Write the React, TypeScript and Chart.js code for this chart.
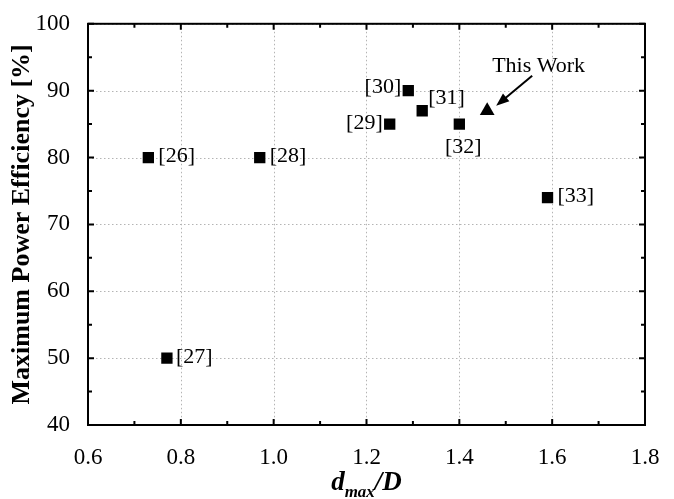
import React, { useEffect, useRef } from "react";
import { Chart, registerables } from "chart.js";

Chart.register(...registerables);

// ---- data ----
const refX = [0.73, 0.77, 0.97, 1.25, 1.29, 1.32, 1.4, 1.59];
const refY = [80, 50, 80, 85, 90, 87, 85, 74];
const refLabels = ["[26]", "[27]", "[28]", "[29]", "[30]", "[31]", "[32]", "[33]"];
const thisWorkX = [1.46];
const thisWorkY = [87];
const thisWorkLabel = "This Work";
const xTicks = [0.6, 0.8, 1.0, 1.2, 1.4, 1.6, 1.8];
const yTicks = [40, 50, 60, 70, 80, 90, 100];
const yTitle = "Maximum Power Efficiency [%]";

// label placement (style only)
const labelPlace: Record<string, { dx: number; dy: number; align: CanvasTextAlign }> = {
  "[26]": { dx: 10, dy: -1, align: "left" },
  "[27]": { dx: 9, dy: -1, align: "left" },
  "[28]": { dx: 10, dy: -1, align: "left" },
  "[29]": { dx: -7, dy: -1, align: "right" },
  "[30]": { dx: -7, dy: -3, align: "right" },
  "[31]": { dx: 6, dy: -13, align: "left" },
  "[32]": { dx: 4, dy: 23, align: "center" },
  "[33]": { dx: 10, dy: -1, align: "left" },
};

const SERIF = "'Liberation Serif', 'Times New Roman', serif";

const gridPlugin = {
  id: "dotgrid",
  beforeDatasetsDraw(chart: any) {
    const { ctx, chartArea: a, scales } = chart;
    ctx.save();
    ctx.strokeStyle = "#b4b4b4";
    ctx.lineWidth = 1;
    ctx.setLineDash([1.5, 2.5]);
    ctx.beginPath();
    xTicks.forEach((v) => {
      const px = Math.round(scales.x.getPixelForValue(v)) + 0.5;
      ctx.moveTo(px, a.top);
      ctx.lineTo(px, a.bottom);
    });
    yTicks.forEach((v) => {
      const py = Math.round(scales.y.getPixelForValue(v)) + 0.5;
      ctx.moveTo(a.left, py);
      ctx.lineTo(a.right, py);
    });
    ctx.stroke();
    ctx.restore();
  },
};

const decorPlugin = {
  id: "decor",
  afterDatasetsDraw(chart: any) {
    const { ctx, chartArea: a, scales } = chart;
    const xs = scales.x;
    const ys = scales.y;
    ctx.save();
    // frame
    ctx.strokeStyle = "#000";
    ctx.lineWidth = 2;
    ctx.strokeRect(a.left, a.top, a.right - a.left, a.bottom - a.top);
    // inward ticks
    ctx.beginPath();
    for (let i = 0; i < xTicks.length * 2 - 1; i++) {
      const v = xTicks[0] + i * 0.1;
      const len = i % 2 === 0 ? 6 : 4;
      const px = xs.getPixelForValue(v);
      ctx.moveTo(px, a.bottom);
      ctx.lineTo(px, a.bottom - len);
      ctx.moveTo(px, a.top);
      ctx.lineTo(px, a.top + len);
    }
    for (let i = 0; i < yTicks.length * 2 - 1; i++) {
      const v = yTicks[0] + i * 5;
      const len = i % 2 === 0 ? 6 : 4;
      const py = ys.getPixelForValue(v);
      ctx.moveTo(a.left, py);
      ctx.lineTo(a.left + len, py);
      ctx.moveTo(a.right, py);
      ctx.lineTo(a.right - len, py);
    }
    ctx.stroke();

    // point labels
    ctx.fillStyle = "#000";
    ctx.font = `22px ${SERIF}`;
    ctx.textBaseline = "middle";
    refLabels.forEach((lab, i) => {
      const p = labelPlace[lab];
      const px = xs.getPixelForValue(refX[i]);
      const py = ys.getPixelForValue(refY[i]);
      ctx.textAlign = p.align;
      ctx.fillText(lab, px + p.dx, py + p.dy);
    });

    // This Work label + arrow
    const tx = xs.getPixelForValue(thisWorkX[0]);
    const ty = ys.getPixelForValue(thisWorkY[0]);
    ctx.textAlign = "left";
    ctx.fillText(thisWorkLabel, tx + 5, ty - 45);
    const x0 = tx + 45, y0 = ty - 35;
    const x1 = tx + 9, y1 = ty - 5;
    ctx.lineWidth = 2;
    ctx.beginPath();
    ctx.moveTo(x0, y0);
    ctx.lineTo(x1 + 6, y1 - 5);
    ctx.stroke();
    const ang = Math.atan2(y1 - y0, x1 - x0);
    const hl = 13, hw = 5;
    ctx.beginPath();
    ctx.moveTo(x1, y1);
    ctx.lineTo(x1 - hl * Math.cos(ang) + hw * Math.sin(ang), y1 - hl * Math.sin(ang) - hw * Math.cos(ang));
    ctx.lineTo(x1 - hl * Math.cos(ang) - hw * Math.sin(ang), y1 - hl * Math.sin(ang) + hw * Math.cos(ang));
    ctx.closePath();
    ctx.fill();

    // y title
    ctx.save();
    ctx.translate(22, (a.top + a.bottom) / 2);
    ctx.rotate(-Math.PI / 2);
    ctx.font = `bold 26px ${SERIF}`;
    ctx.textAlign = "center";
    ctx.textBaseline = "middle";
    ctx.fillText(yTitle, 0, 0);
    ctx.restore();

    // x title: d_max/D
    const big = `italic bold 27px ${SERIF}`;
    const small = `italic bold 17px ${SERIF}`;
    ctx.textAlign = "left";
    ctx.textBaseline = "alphabetic";
    ctx.font = big;
    const wD = ctx.measureText("d").width;
    const wSlash = ctx.measureText("/D").width;
    ctx.font = small;
    const wMax = ctx.measureText("max").width;
    const total = wD + wMax + wSlash;
    let cx = (a.left + a.right) / 2 - total / 2;
    const base = 490;
    ctx.font = big;
    ctx.fillText("d", cx, base);
    cx += wD;
    ctx.font = small;
    ctx.fillText("max", cx, base + 7);
    cx += wMax;
    ctx.font = big;
    ctx.fillText("/D", cx, base);

    ctx.restore();
  },
};

export default function App() {
  const ref = useRef<HTMLCanvasElement | null>(null);
  useEffect(() => {
    document.body.style.margin = "0";
    if (!ref.current) return;
    const chart = new Chart(ref.current, {
      type: "scatter",
      data: {
        datasets: [
          {
            label: "refs",
            data: refX.map((x, i) => ({ x, y: refY[i] })),
            pointStyle: "rect",
            pointRadius: 8,
            backgroundColor: "#000",
            borderColor: "#000",
            borderWidth: 0,
          },
          {
            label: "this",
            data: thisWorkX.map((x, i) => ({ x, y: thisWorkY[i] })),
            pointStyle: "triangle",
            pointRadius: 8.5,
            backgroundColor: "#000",
            borderColor: "#000",
            borderWidth: 0,
          },
        ],
      },
      options: {
        animation: false,
        responsive: true,
        maintainAspectRatio: false,
        layout: { padding: { top: 16, right: 29, left: 0, bottom: 0 } },
        plugins: { legend: { display: false }, tooltip: { enabled: false } },
        scales: {
          x: {
            type: "linear",
            min: 0.6,
            max: 1.8,
            afterFit: (s: any) => {
              s.height = 74;
            },
            afterBuildTicks: (s: any) => {
              s.ticks = xTicks.map((v) => ({ value: v }));
            },
            ticks: {
              padding: 11,
              color: "#000",
              font: { family: SERIF, size: 23 },
              callback: (v: any) => Number(v).toFixed(1),
              maxRotation: 0,
            },
            grid: { display: false },
            border: { display: false },
          },
          y: {
            type: "linear",
            min: 40,
            max: 100,
            afterFit: (s: any) => {
              s.width = 88;
            },
            afterBuildTicks: (s: any) => {
              s.ticks = yTicks.map((v) => ({ value: v }));
            },
            ticks: {
              padding: 10,
              color: "#000",
              font: { family: SERIF, size: 23 },
            },
            grid: { display: false },
            border: { display: false },
          },
        },
      },
      plugins: [gridPlugin, decorPlugin],
    });
    return () => chart.destroy();
  }, []);
  return (
    <div style={{ width: 674, height: 499, position: "relative" }}>
      <canvas ref={ref} />
    </div>
  );
}
